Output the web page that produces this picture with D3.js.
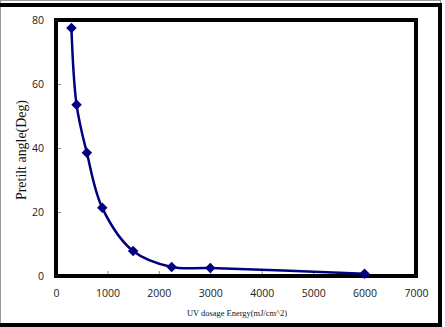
<!DOCTYPE html>
<html><head><meta charset="utf-8">
<script src="https://cdn.jsdelivr.net/npm/d3@7"></script>
<style>html,body{margin:0;padding:0;background:#fff;}svg{display:block;}</style>
</head><body>
<script>
const dosage = [300, 400, 600, 900, 1500, 2250, 3000, 6000];
const pretilt = [77.5, 53.5, 38.5, 21.3, 7.8, 2.8, 2.5, 0.7];
const xTicks = [0, 1000, 2000, 3000, 4000, 5000, 6000, 7000];
const yTicks = [0, 20, 40, 60, 80];
const xTitle = "UV dosage Energy(mJ/cm^2)";
const yTitle = "Pretilt angle(Deg)";

const W = 445, H = 327;
const svg = d3.select("body").append("svg").attr("width", W).attr("height", H);

// outer frame
svg.append("rect").attr("x", 0.5).attr("y", 0.5).attr("width", 440).attr("height", 325)
  .attr("fill", "none").attr("stroke", "#999").attr("stroke-width", 1);
svg.append("line").attr("x1", 0).attr("x2", 442).attr("y1", 5).attr("y2", 5).attr("stroke", "#000").attr("stroke-width", 4);
svg.append("line").attr("x1", 440).attr("x2", 440).attr("y1", 3).attr("y2", 327).attr("stroke", "#000").attr("stroke-width", 4);
svg.append("line").attr("x1", 0).attr("x2", 442).attr("y1", 325).attr("y2", 325).attr("stroke", "#000").attr("stroke-width", 4);

const x = d3.scaleLinear().domain([0, 7000]).range([56, 416]);
const y = d3.scaleLinear().domain([0, 80]).range([276, 20]);

const gx = svg.append("g").attr("transform", `translate(0,${y(0)})`)
  .call(d3.axisBottom(x).tickValues(xTicks).tickFormat(d3.format("d")).tickSizeInner(-5).tickSizeOuter(0).tickPadding(14));
const gy = svg.append("g").attr("transform", `translate(${x(0)},0)`)
  .call(d3.axisLeft(y).tickValues(yTicks).tickFormat(d3.format("d")).tickSizeInner(-5).tickSizeOuter(0).tickPadding(12));
[gx, gy].forEach(g => {
  g.select(".domain").remove();
  g.selectAll(".tick line").attr("stroke", "#888").attr("stroke-width", 1);
  g.selectAll(".tick text").attr("font-family", "Open Sans, Liberation Sans, Arial, sans-serif")
    .attr("font-size", 10.5).attr("fill", "#222");
});

svg.append("rect").attr("x", x(0)).attr("y", y(80)).attr("width", x(7000) - x(0)).attr("height", y(0) - y(80))
  .attr("fill", "none").attr("stroke", "#000").attr("stroke-width", 4);

const pts = dosage.map((d, i) => [d, pretilt[i]]);
svg.append("path").datum(pts)
  .attr("d", d3.line().x(d => x(d[0])).y(d => y(d[1])).curve(d3.curveCatmullRom.alpha(0.5)))
  .attr("fill", "none").attr("stroke", "#000080").attr("stroke-width", 2.5);

svg.append("g").selectAll("path").data(pts).join("path")
  .attr("transform", d => `translate(${x(d[0])},${y(d[1])})`)
  .attr("d", d3.symbol(d3.symbolDiamond2, 70)())
  .attr("fill", "#000080");

svg.append("text").attr("x", 237).attr("y", 316).attr("text-anchor", "middle")
  .attr("font-family", "Liberation Serif, Times New Roman, serif").attr("font-size", 9)
  .attr("textLength", 100).attr("lengthAdjust", "spacingAndGlyphs")
  .attr("fill", "#111").text(xTitle);

svg.append("text").attr("transform", "translate(26,150) rotate(-90)").attr("text-anchor", "middle")
  .attr("font-family", "Liberation Serif, Times New Roman, serif").attr("font-size", 15)
  .attr("textLength", 100).attr("lengthAdjust", "spacingAndGlyphs")
  .attr("fill", "#111").text(yTitle);
</script>
</body></html>
